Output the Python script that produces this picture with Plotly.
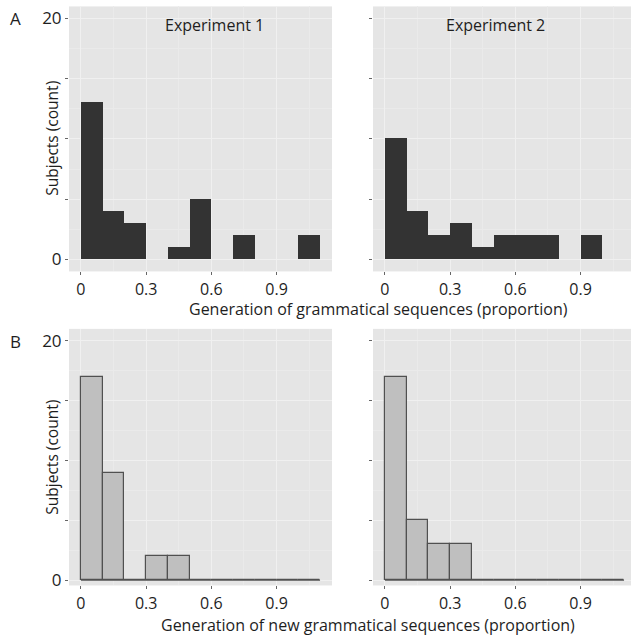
import plotly.graph_objects as go

# ---- data ----
bin_left = [0.0, 0.1, 0.2, 0.3, 0.4, 0.5, 0.6, 0.7, 0.8, 0.9, 1.0]
bin_width = 0.1
exp1_grammatical = [13, 4, 3, 0, 1, 5, 0, 2, 0, 0, 2]
exp2_grammatical = [10, 4, 2, 3, 1, 2, 2, 2, 0, 2, 0]
exp1_new = [17, 9, 0, 2, 2, 0, 0, 0, 0, 0, 0]
exp2_new = [17, 5, 3, 3, 0, 0, 0, 0, 0, 0, 0]
x_ticks = [0, 0.3, 0.6, 0.9]
x_ticklabels = ["0", "0.3", "0.6", "0.9"]
y_ticks = [0, 5, 10, 15, 20]
y_ticklabels = ["0", "", "", "", "20"]
facet_titles = ["Experiment 1", "Experiment 2"]
panel_letters = ["A", "B"]
y_title = "Subjects (count)"
x_title_a = "Generation of grammatical sequences (proportion)"
x_title_b = "Generation of new grammatical sequences (proportion)"

W, H = 631, 638
FONT = "Open Sans"
BG = "#e5e5e5"
GRID = "#f0f0f0"
TXT = "#1e1e1e"
centers = [b + bin_width / 2 for b in bin_left]

fig = go.Figure()

def px_x(p):
    return p / W

def px_y(p):
    return 1 - p / H

# panel geometry in pixels
left_dom = [px_x(69), px_x(332)]
right_dom = [px_x(373), 1.0]
a_dom = [px_y(274), px_y(6.5)]
b_dom = [px_y(591), px_y(332)]
px_per_unit = (332 - 69) / 1.21
xr_left = [-0.055, 1.155]
xr_right = [-0.055, -0.055 + (W - 373) / px_per_unit]
yr_a = [-1, 21]
yr_b = [-0.45, 21]

panels = [
    ("x", "y", left_dom, a_dom, xr_left, yr_a, exp1_grammatical, "A", True),
    ("x2", "y2", right_dom, a_dom, xr_right, yr_a, exp2_grammatical, "A", False),
    ("x3", "y3", left_dom, b_dom, xr_left, yr_b, exp1_new, "B", True),
    ("x4", "y4", right_dom, b_dom, xr_right, yr_b, exp2_new, "B", False),
]

for i, (xa, ya, xd, yd, xr, yr, vals, grp, show_lab) in enumerate(panels):
    if grp == "A":
        marker = dict(color="#333333", line=dict(width=0))
    else:
        marker = dict(color="#bfbfbf", line=dict(color="#505050", width=1.2))
    fig.add_trace(go.Bar(x=centers, y=vals, width=bin_width, marker=marker,
                         xaxis=xa, yaxis=ya, showlegend=False))
    if grp == "B":
        # zero-count bins drawn as a flat outline along the baseline
        fig.add_trace(go.Scatter(
            x=[bin_left[0], bin_left[-1] + bin_width], y=[0, 0], mode="lines",
            line=dict(color="#505050", width=1.2), xaxis=xa, yaxis=ya,
            showlegend=False, hoverinfo="skip"))
    suffix = "" if i == 0 else str(i + 1)
    fig.layout["xaxis" + suffix] = dict(
        domain=xd, range=xr, anchor=ya, tickvals=x_ticks, ticktext=x_ticklabels,
        ticks="outside", ticklen=3, tickcolor="#666", tickwidth=1,
        showgrid=True, gridcolor=GRID, gridwidth=1.2,
        minor=dict(showgrid=True, gridcolor="#eaeaea", gridwidth=0.6, dtick=0.15, tick0=0.15),
        zeroline=False, showline=False,
        ticklabelstandoff=0,
        tickfont=dict(family=FONT, size=16, color=TXT), fixedrange=True)
    fig.layout["yaxis" + suffix] = dict(
        domain=yd, range=yr, anchor=xa, tickvals=y_ticks,
        ticktext=y_ticklabels if show_lab else [""] * 5,
        ticks="outside", ticklen=3, tickcolor="#666", tickwidth=1,
        showgrid=True, gridcolor=GRID, gridwidth=1.2,
        minor=dict(showgrid=True, gridcolor="#eaeaea", gridwidth=0.6, dtick=5, tick0=2.5),
        zeroline=False, showline=False,
        tickfont=dict(family=FONT, size=17, color=TXT), fixedrange=True)

ann = []
def text(x, y, s, size=16, angle=0, xanchor="center"):
    ann.append(dict(x=x, y=y, xref="paper", yref="paper", text=s, showarrow=False,
                    textangle=angle, xanchor=xanchor, yanchor="middle",
                    font=dict(family=FONT, size=size, color=TXT)))

text(px_x(214), px_y(25), facet_titles[0])
text(px_x(495), px_y(25), facet_titles[1])
text(px_x(15), px_y(19), panel_letters[0], size=17)
text(px_x(15), px_y(345), panel_letters[1], size=17)
text(px_x(52), px_y(140), y_title, size=15.5, angle=-90)
text(px_x(52), px_y(462), y_title, size=15.5, angle=-90)
text(px_x(378), px_y(312), x_title_a)
text(px_x(367.5), px_y(630.5), x_title_b)

fig.update_layout(
    width=W, height=H, margin=dict(l=0, r=0, t=0, b=0),
    paper_bgcolor="white", plot_bgcolor=BG, bargap=0,
    annotations=ann, font=dict(family=FONT, color=TXT),
)
fig.write_html("out.html")
